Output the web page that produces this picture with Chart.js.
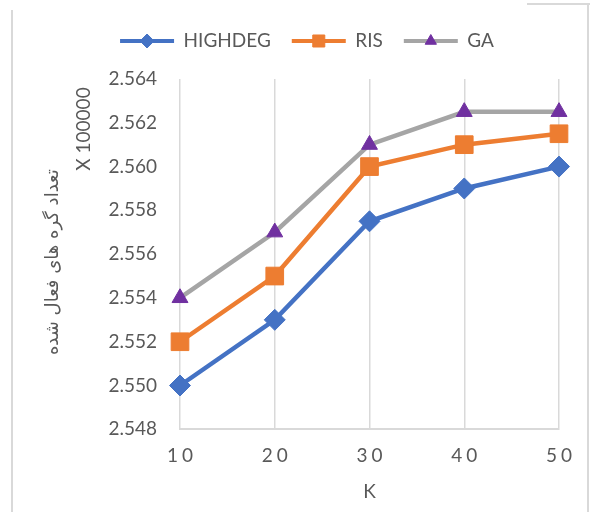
<!DOCTYPE html>
<html><head><meta charset="utf-8">
<script src="https://cdn.jsdelivr.net/npm/chart.js@4"></script>
<style>
html,body{margin:0;padding:0;background:#fff;}
#wrap{position:relative;width:590px;height:512px;overflow:hidden;}
canvas{position:absolute;left:0;top:0;}
.bl{position:absolute;background:#d9d9d9;}
</style></head><body>
<div id="wrap">
<div class="bl" style="left:11px;top:10px;width:2px;height:502px"></div>
<div class="bl" style="left:527px;top:3px;width:63px;height:2px"></div>
<div class="bl" style="left:587px;top:3px;width:2px;height:509px"></div>
<canvas id="c" width="590" height="512"></canvas>
</div>
<script>
// ---- data ----
const categories = ['10', '20', '30', '40', '50'];
const seriesNames = ['HIGHDEG', 'RIS', 'GA'];
const highdegValues = [2.550, 2.553, 2.5575, 2.559, 2.560];
const risValues = [2.552, 2.555, 2.560, 2.561, 2.5615];
const gaValues = [2.554, 2.557, 2.561, 2.5625, 2.5625];
const yTickValues = [2.548, 2.550, 2.552, 2.554, 2.556, 2.558, 2.560, 2.562, 2.564];
const yTitle = 'تعداد گره های فعال شده';
const xTitle = 'K';
const unitLabel = 'X 100000';

// ---- styling ----
const TEXT = '#595959';
const LATIN = "Lato, 'DejaVu Sans', sans-serif";
const FS = 19;
const legendMarkers = [
  {style: 'rectRot', radius: 7, color: '#4472C4'},
  {style: 'rect', radius: 8.5, color: '#ED7D31'},
  {style: 'triangle', radius: 6.5, color: '#7030A0'}
];

const datasets = [
  {label: seriesNames[0], data: highdegValues, borderColor: '#4472C4', backgroundColor: '#4472C4',
   pointStyle: 'rectRot', pointRadius: 10.5, pointBackgroundColor: '#4472C4', pointBorderColor: '#4472C4'},
  {label: seriesNames[1], data: risValues, borderColor: '#ED7D31', backgroundColor: '#ED7D31',
   pointStyle: 'rect', pointRadius: 12.5, pointBackgroundColor: '#ED7D31', pointBorderColor: '#ED7D31'},
  {label: seriesNames[2], data: gaValues, borderColor: '#A5A5A5', backgroundColor: '#A5A5A5',
   pointStyle: 'triangle', pointRadius: 9.2, pointBackgroundColor: '#7030A0', pointBorderColor: '#7030A0'}
].map(d => Object.assign(d, {borderWidth: 4.5, pointBorderWidth: 1, tension: 0, fill: false, pointHoverRadius: d.pointRadius}));

const LEGEND_PAD = 21;
const LEGEND_BOX_W = 54;
const LEGEND_EXTRA = 18.5;
const LEGEND_SHIFT = 22;

const layoutPlugin = {
  id: 'layoutTweaks',
  beforeInit(chart) {
    const fit = chart.legend.fit;
    chart.legend.fit = function () { fit.call(this); this.height += LEGEND_EXTRA; };
  },
  afterLayout(chart) {
    const lg = chart.legend;
    lg.left += LEGEND_SHIFT; lg.right += LEGEND_SHIFT;
    const xs = chart.scales.x;
    if (!xs._lsPatched) {
      const orig = xs.drawLabels;
      xs.drawLabels = function (area) {
        const c = this.ctx; c.save(); c.letterSpacing = '4px'; c.translate(2, 0);
        orig.call(this, area); c.restore();
      };
      xs._lsPatched = true;
    }
    const ys = chart.scales.y;
    if (!ys._tPatched) {
      const origT = ys.drawTitle;
      ys.drawTitle = function () {
        const c = this.ctx; c.save(); c.translate(0, 8);
        origT.call(this); c.restore();
      };
      ys._tPatched = true;
    }
  },
  afterDraw(chart) {
    const ctx = chart.ctx;
    const lg = chart.legend;
    // legend markers
    const boxes = lg.legendHitBoxes;
    let left = (lg.left + LEGEND_PAD + lg.right - lg.lineWidths[0]) / 2;
    const cy = lg.top + LEGEND_PAD + FS / 2;
    boxes.forEach((b, i) => {
      const m = legendMarkers[i];
      const cx = left + LEGEND_BOX_W / 2;
      ctx.save();
      ctx.fillStyle = m.color; ctx.strokeStyle = m.color; ctx.lineWidth = 1;
      Chart.helpers.drawPoint(ctx, {pointStyle: m.style, radius: m.radius, rotation: 0, borderWidth: 1}, cx, cy);
      ctx.restore();
      left += b.width + LEGEND_PAD;
    });
    // display-unit label
    ctx.save();
    ctx.translate(83.5, 129);
    ctx.rotate(-Math.PI / 2);
    ctx.font = FS + 'px ' + LATIN;
    ctx.fillStyle = TEXT;
    ctx.textAlign = 'center';
    ctx.textBaseline = 'middle';
    ctx.fillText(unitLabel, 0, 0);
    ctx.restore();
  }
};

new Chart(document.getElementById('c'), {
  type: 'line',
  data: {labels: categories, datasets},
  options: {
    responsive: false,
    animation: false,
    devicePixelRatio: 1,
    events: [],
    layout: {padding: {left: 11, right: 31, top: 10.5, bottom: 0}},
    plugins: {
      tooltip: {enabled: false},
      legend: {
        position: 'top',
        labels: {
          font: {family: LATIN, size: FS},
          color: TEXT,
          boxWidth: LEGEND_BOX_W,
          boxHeight: 4,
          padding: LEGEND_PAD,
          generateLabels(chart) {
            return chart.data.datasets.map((d, i) => ({
              text: d.label, fillStyle: d.borderColor, strokeStyle: d.borderColor,
              lineWidth: 0, fontColor: TEXT, datasetIndex: i, hidden: false
            }));
          }
        }
      }
    },
    scales: {
      x: {
        type: 'category',
        offset: false,
        grid: {display: true, color: '#d9d9d9', lineWidth: 1.5, drawTicks: false},
        border: {display: true, color: '#d9d9d9', width: 2},
        ticks: {font: {family: LATIN, size: FS}, color: TEXT, padding: 15, maxRotation: 0, autoSkip: false},
        title: {display: true, text: xTitle, font: {family: LATIN, size: FS}, color: TEXT, padding: {top: 0, bottom: 8.6}},
        afterFit(s) { s.height = 82.7; }
      },
      y: {
        min: yTickValues[0],
        max: yTickValues[yTickValues.length - 1],
        afterBuildTicks(s) { s.ticks = yTickValues.map(v => ({value: v})); },
        grid: {display: false, drawTicks: false},
        border: {display: false},
        ticks: {font: {family: LATIN, size: FS}, color: TEXT, padding: 23, callback: v => Number(v).toFixed(3)},
        title: {display: true, text: yTitle, font: {family: "'DejaVu Sans', sans-serif", size: 18}, color: TEXT, padding: {top: 31.2, bottom: 0}},
        afterFit(s) { s.width = 169; }
      }
    }
  },
  plugins: [layoutPlugin]
});
</script>
</body></html>
